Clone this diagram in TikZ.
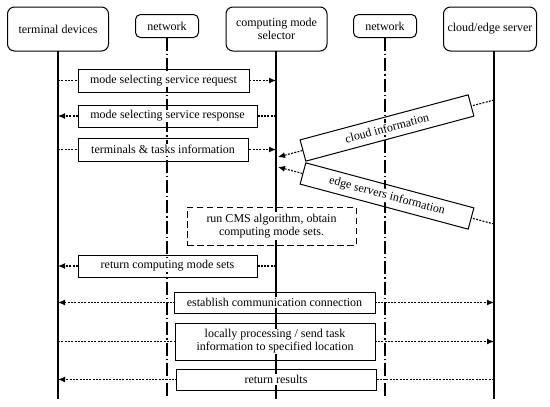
\documentclass[tikz,border=0pt]{standalone}
\usepackage{fontspec}
\setmainfont{Liberation Serif}
\usetikzlibrary{arrows.meta}
\begin{document}
\begin{tikzpicture}[x=1pt,y=-1pt,
  font=\fontsize{12}{13}\selectfont,
  hdr/.style={draw, rounded corners=7pt, line width=1pt, align=center, inner sep=0pt, minimum height=44pt},
  nethdr/.style={draw, rounded corners=5pt, line width=1pt, inner sep=0pt, minimum height=23pt, minimum width=63pt},
  msgbox/.style={draw, fill=white, line width=1pt, inner sep=0pt},
  cmsbox/.style={draw, fill=white, line width=0.9pt, dash pattern=on 6.5pt off 3.5pt, inner sep=0pt},
  lbl/.style={fill=white, inner sep=1pt, align=center},
  msg/.style={line width=1.1pt, dash pattern=on 2pt off 1.3pt},
  tip/.style={-{Latex[length=7pt,width=6pt]}},
  tips/.style={{Latex[length=7pt,width=6pt]}-{Latex[length=7pt,width=6pt]}},
  life/.style={line width=2.8pt},
  netline/.style={line width=1.6pt, dash pattern=on 13pt off 3pt on 1.3pt off 3pt}
]
\useasboundingbox (0,0) rectangle (550,407);

% headers
\node[hdr, minimum width=101pt] (term) at (58,29) {terminal devices};
\node[nethdr] (net1) at (167,26) {network};
\node[hdr, minimum width=101pt] (sel) at (276.5,29) {computing mode\\selector};
\node[nethdr] (net2) at (385,26) {network};
\node[hdr, minimum width=93pt] (srv) at (490,29) {cloud/edge server};

% lifeline anchors
\coordinate (tTop) at (58,51);   \coordinate (tBot) at (58,399);
\coordinate (n1Top) at (167,38); \coordinate (n1Bot) at (167,399);
\coordinate (sTop) at (276,51);  \coordinate (sBot) at (276,399);
\coordinate (n2Top) at (385,38); \coordinate (n2Bot) at (385,399);
\coordinate (vTop) at (494,51);  \coordinate (vBot) at (494,399);

% message box positions
\coordinate (req) at (163.5,80.5);
\coordinate (resp) at (167.5,116);
\coordinate (tti) at (163,149.5);
\coordinate (ret) at (167.5,266);
\coordinate (est) at (274.5,302.5);
\coordinate (loc) at (275,341.5);
\coordinate (res) at (276,379.5);

% end points for the server messages
\coordinate (c1) at (494,100); \coordinate (c2) at (278,157);
\coordinate (e1) at (494,224); \coordinate (e2) at (278,167);

% connectors (behind boxes)
\draw[msg, tip] (tTop |- req) -- (sTop |- req);
\draw[msg, tip] (sTop |- resp) -- (tTop |- resp);
\draw[msg, tip] (tTop |- tti) -- (sTop |- tti);
\draw[msg, tip] (sTop |- ret) -- (tTop |- ret);
\draw[msg, tips] (tTop |- est) -- (vTop |- est);
\draw[msg, tip] (tTop |- loc) -- (vTop |- loc);
\draw[msg, tip] (vTop |- res) -- (tTop |- res);
\draw[msg, tip] (c1) -- (c2);
\draw[msg, tip] (e1) -- (e2);

% boxes over connectors
\node[msgbox, minimum width=171pt, minimum height=23pt] (reqB) at (req) {};
\node[msgbox, minimum width=179pt, minimum height=22pt] (respB) at (resp) {};
\node[msgbox, minimum width=170pt, minimum height=23pt] (ttiB) at (tti) {};
\node[msgbox, minimum width=179pt, minimum height=22pt] (retB) at (ret) {};
\node[msgbox, minimum width=201pt, minimum height=21pt] (estB) at (est) {};
\node[msgbox, minimum width=200pt, minimum height=37pt] (locB) at (loc) {};
\node[msgbox, minimum width=200pt, minimum height=21pt] (resB) at (res) {};
\node[msgbox, rotate=15, minimum width=174pt, minimum height=22pt] (cloud) at (387,128) {};
\node[msgbox, rotate=-15, minimum width=174pt, minimum height=22pt] (edge) at (387,196) {};
\node[cmsbox, minimum width=169pt, minimum height=38pt] (cms) at (271.5,226) {};

% lifelines
\draw[life] (tTop) -- (tBot);
\draw[life] (sTop) -- (sBot);
\draw[life] (vTop) -- (vBot);
\draw[netline] (n1Top) -- (n1Bot);
\draw[netline] (n2Top) -- (n2Bot);

% labels
\node[lbl] (reqL) at (reqB) {mode selecting service request};
\node[lbl] (respL) at (respB) {mode selecting service response};
\node[lbl] (ttiL) at (ttiB) {terminals \& tasks information};
\node[lbl] (retL) at (retB) {return computing mode sets};
\node[lbl] (estL) at (estB) {establish communication connection};
\node[lbl] (locL) at (locB) {locally processing / send task\\information to specified location};
\node[lbl] (resL) at (resB) {return results};
\node[lbl, rotate=15] (cloudL) at (cloud) {cloud information};
\node[lbl, rotate=-15] (edgeL) at (edge) {edge servers information};
\node[lbl, inner sep=2pt] (cmsL) at (cms) {run CMS algorithm, obtain\\computing mode sets.};
\end{tikzpicture}
\end{document}
